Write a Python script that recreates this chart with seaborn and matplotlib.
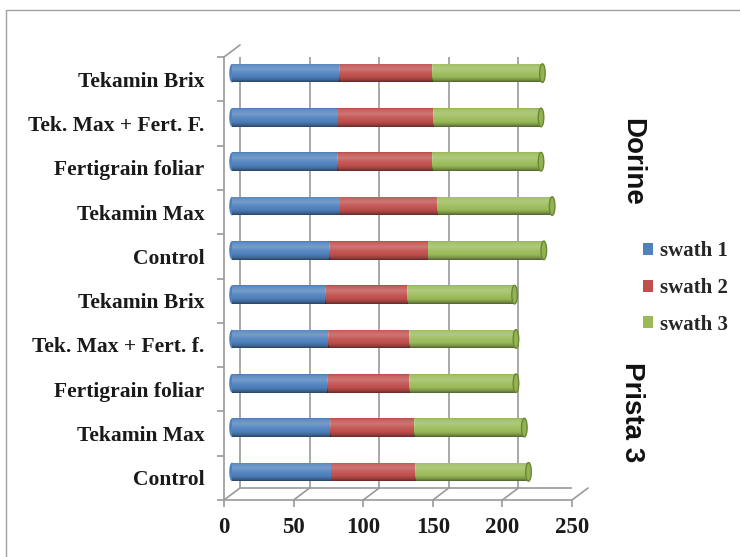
import numpy as np
import pandas as pd
import matplotlib
matplotlib.use("Agg")
import matplotlib.pyplot as plt
import seaborn as sns
from matplotlib.transforms import offset_copy, IdentityTransform
from matplotlib.patches import Patch, Ellipse, Rectangle
from matplotlib.lines import Line2D

# ---- data -------------------------------------------------------------
groups = ["Dorine"] * 5 + ["Prista 3"] * 5
treatments = ["Tekamin Brix", "Tek. Max + Fert. F.", "Fertigrain foliar", "Tekamin Max", "Control",
              "Tekamin Brix", "Tek. Max + Fert. f.", "Fertigrain foliar", "Tekamin Max", "Control"]
swath1 = [77, 76, 75.5, 77.5, 70, 67, 69, 68.5, 70.5, 71]
swath2 = [67, 68.5, 68.5, 70, 70.5, 59, 58.5, 59, 60.5, 60.5]
swath3 = [79, 77.5, 78, 82.5, 83.5, 77, 76.5, 76.5, 79, 81.5]
series = ["swath 1", "swath 2", "swath 3"]
colors = ["#4F81BD", "#C0504D", "#9BBB59"]
x_ticks = [0, 50, 100, 150, 200, 250]

rows = [f"{g} | {t}" for g, t in zip(groups, treatments)]
df = pd.DataFrame({"row": rows, "swath 1": swath1, "swath 2": swath2, "swath 3": swath3})

sns.set_style("white")
plt.rcParams["font.family"] = ["Liberation Serif", "DejaVu Serif"]

W, H = 740, 557
fig = plt.figure(figsize=(W / 100, H / 100), dpi=100)
# front plane of the 3-D box
x0, x1, ytop, ybot = 224, 572, 57, 500
ax = fig.add_axes([x0 / W, 1 - ybot / H, (x1 - x0) / W, (ybot - ytop) / H])

GRID = "#9a9a9a"
DEPTH = (16, 12)                       # back wall offset in pixels
mid = offset_copy(ax.transData, fig=fig, x=DEPTH[0] / 2, y=DEPTH[1] / 2, units="dots")
back = offset_copy(ax.transData, fig=fig, x=DEPTH[0], y=DEPTH[1], units="dots")

# ---- stacked bars -----------------------------------------------------
left = np.zeros(len(df))
for name, col in zip(series, colors):
    sns.barplot(data=df, x=name, y="row", left=left, color=col, saturation=1,
                width=0.42, errorbar=None, ax=ax, zorder=3, linewidth=0)
    left = left + df[name].to_numpy()

ax.set_xlim(0, 250)
ax.set_ylim(len(df) - 0.5, -0.5)

# cylinder shading profile (top -> bottom): + lightens, - darkens
prof_t = [0.0, 0.08, 0.3, 0.5, 0.75, 0.9, 1.0]
prof_v = [-0.06, 0.1, 0.22, 0.08, -0.04, -0.25, -0.48]
tt = np.linspace(0, 1, 64)
lv = np.interp(tt, prof_t, prof_v)
shade = np.zeros((64, 1, 4))
shade[:, 0, :3] = np.where(lv[:, None] > 0, 1.0, 0.0)
shade[:, 0, 3] = np.abs(lv)

# rounded cylinder ends
for p in ax.containers[0].patches:
    yc = p.get_y() + p.get_height() / 2
    ax.add_patch(Ellipse((p.get_x(), yc), width=4.0, height=p.get_height(),
                         transform=mid, facecolor=colors[0], edgecolor="none", zorder=2))
for p in ax.containers[-1].patches:
    yc = p.get_y() + p.get_height() / 2
    ax.add_patch(Ellipse((p.get_x() + p.get_width(), yc), width=4.0, height=p.get_height(),
                         transform=mid, facecolor="#93B352", edgecolor="#6A8735", lw=1.0, zorder=5))

for cont in ax.containers:
    for p in cont.patches:
        p.set_transform(mid)
        x, y, w, h = p.get_x(), p.get_y(), p.get_width(), p.get_height()
        im = ax.imshow(shade, extent=(x, x + w, y + h, y), origin="upper",
                       aspect="auto", transform=mid, zorder=4, interpolation="bilinear")
        im.set_clip_path(p)

ax.set_xlim(0, 250)
ax.set_ylim(len(df) - 0.5, -0.5)

# ---- 3-D frame ----------------------------------------------------------
ybot_d, ytop_d = len(df) - 0.5, -0.5
for xv in x_ticks:
    ax.add_line(Line2D([xv, xv], [ybot_d, ytop_d], transform=back, color=GRID, lw=1.2, zorder=1))
ax.add_line(Line2D([0, 250], [ybot_d, ybot_d], transform=back, color=GRID, lw=1.2, zorder=1))

fig.canvas.draw()
idt = IdentityTransform()
for xv in x_ticks:
    px, py = ax.transData.transform((xv, ybot_d))
    fig.add_artist(Line2D([px, px + DEPTH[0]], [py, py + DEPTH[1]], transform=idt, color=GRID, lw=1.2))
px, py = ax.transData.transform((0, ytop_d))
fig.add_artist(Line2D([px, px + DEPTH[0]], [py, py + DEPTH[1]], transform=idt, color=GRID, lw=1.2))

for side in ["top", "right"]:
    ax.spines[side].set_visible(False)
for side in ["left", "bottom"]:
    ax.spines[side].set_color(GRID)
    ax.spines[side].set_linewidth(1.2)
ax.patch.set_visible(False)

# ---- ticks and labels -------------------------------------------------
ylab_font = dict(family="Liberation Serif", weight="bold", size=15.5)
xlab_font = dict(family="Liberation Serif", weight="bold", size=16.5)
ax.set_xticks(x_ticks)
ax.set_xticklabels([str(v) for v in x_ticks], fontdict=xlab_font)
ax.set_yticks(range(len(df)))
ax.set_yticklabels(treatments, fontdict=ylab_font)
ax.set_yticks(np.arange(-0.5, len(df)), minor=True)
ax.tick_params(axis="y", which="major", length=0, pad=14, colors="#1a1a1a")
ax.tick_params(axis="y", which="minor", length=5, width=1.2, color=GRID, left=True)
ax.tick_params(axis="x", which="major", length=5, width=1.2, color=GRID, pad=7,
               labelcolor="#1a1a1a", bottom=True)
ax.set_xlabel("")
ax.set_ylabel("")

# group names
grp_font = dict(family="Liberation Sans", weight="bold", size=20, color="#111111")
fig.text(632 / W, 1 - 162 / H, "Dorine", rotation=-90, ha="center", va="center", **grp_font)
fig.text(632 / W, 1 - 412 / H, "Prista 3", rotation=-90, ha="center", va="center", **grp_font)

# legend
handles = [Patch(facecolor=c, edgecolor="none", label=s) for s, c in zip(series, colors)]
fig.legend(handles=handles, loc="center left", bbox_to_anchor=(643 / W, 1 - 288 / H),
           frameon=False, prop=dict(family="Liberation Serif", weight="bold", size=15),
           handlelength=0.5, handleheight=0.5, handletextpad=0.3, labelspacing=0.8,
           borderaxespad=0, borderpad=0)

# outer chart border
fig.add_artist(Rectangle((6 / W, -0.1), 1.2, 1.1 - 10 / H, transform=fig.transFigure,
                         fill=False, edgecolor="#a0a0a0", lw=1.0))

fig.savefig("out.png", dpi=100)
